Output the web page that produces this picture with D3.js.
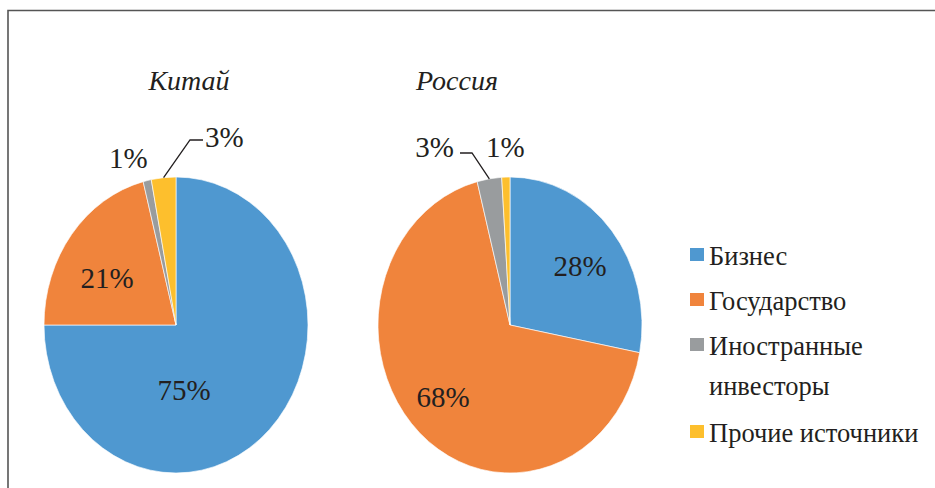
<!DOCTYPE html>
<html lang="ru">
<head>
    <meta charset="UTF-8">
    <title>Китай и Россия</title>
    <script src="https://d3js.org/d3.v7.min.js"></script>
    <style>
        body { margin: 0; background: #fff; }
        svg { display: block; }
    </style>
</head>
<body>
    <svg id="chart"></svg>

    <script>
        // categories and values (percent)
        var categories = ["Бизнес", "Государство", "Иностранные инвесторы", "Прочие источники"];
        var chinaValues = [75, 21, 1, 3];
        var russiaValues = [28, 68, 3, 1];
        var titles = ["Китай", "Россия"];
        var colors = ["#4f98d0", "#f0843c", "#999c9e", "#fdbf2d"];

        var width = 935, height = 488;
        var rx = 132, ry = 148;
        var serif = "'Liberation Serif', 'Times New Roman', 'DejaVu Serif', 'Noto Serif', serif";

        var svg = d3.select("#chart")
            .attr("width", width)
            .attr("height", height);

        // frame
        svg.append("path")
            .attr("d", "M8,488 V10.5 H935")
            .attr("fill", "none")
            .attr("stroke", "#555")
            .attr("stroke-width", 1.6);

        var pie = d3.pie().sort(null).value(function(d) { return d; });
        var arc = d3.arc().innerRadius(0).outerRadius(rx);

        // label placement per pie (index of slice -> position, relative to centre)
        var charts = [
            {
                values: chinaValues, title: titles[0], cx: 176, cy: 325, titleX: 189,
                labels: [
                    { dx: 8, dy: 75, anchor: "middle" },
                    { dx: -69, dy: -37, anchor: "middle" },
                    { dx: -67, dy: -157, anchor: "start" },
                    { dx: 29, dy: -178, anchor: "start", leader: [[14, -185], [27, -185]] }
                ]
            },
            {
                values: russiaValues, title: titles[1], cx: 510, cy: 325, titleX: 457,
                labels: [
                    { dx: 70, dy: -49, anchor: "middle" },
                    { dx: -67, dy: 82, anchor: "middle" },
                    { dx: -56, dy: -168, anchor: "end", leader: [[-38, -172], [-50, -172]] },
                    { dx: -24, dy: -168, anchor: "start" }
                ]
            }
        ];

        charts.forEach(function(c) {
            var arcs = pie(c.values);

            svg.append("text")
                .attr("x", c.titleX)
                .attr("y", 90)
                .attr("text-anchor", "middle")
                .attr("font-family", serif)
                .attr("font-style", "italic")
                .attr("font-size", 28)
                .attr("fill", "#231f20")
                .text(c.title);

            var g = svg.append("g")
                .attr("transform", "translate(" + c.cx + "," + c.cy + ") scale(1," + (ry / rx) + ")");

            g.selectAll("path")
                .data(arcs)
                .enter().append("path")
                .attr("d", arc)
                .attr("fill", function(d, i) { return colors[i]; })
                .attr("stroke", "#fff")
                .attr("stroke-width", 0.6);

            arcs.forEach(function(d, i) {
                var lab = c.labels[i];
                if (lab.leader) {
                    var mid = (d.startAngle + d.endAngle) / 2;
                    var pts = [[rx * Math.sin(mid), -ry * Math.cos(mid)]].concat(lab.leader);
                    svg.append("path")
                        .attr("d", d3.line()(pts.map(function(p) { return [c.cx + p[0], c.cy + p[1]]; })))
                        .attr("fill", "none")
                        .attr("stroke", "#231f20")
                        .attr("stroke-width", 1.3);
                }
                svg.append("text")
                    .attr("x", c.cx + lab.dx)
                    .attr("y", c.cy + lab.dy)
                    .attr("text-anchor", lab.anchor)
                    .attr("font-family", serif)
                    .attr("font-size", 29)
                    .attr("fill", "#231f20")
                    .text(c.values[i] + "%");
            });
        });

        // legend
        var legendRows = [[265], [310], [355, 395], [442]];
        var legendLines = [["Бизнес"], ["Государство"], ["Иностранные", "инвесторы"], ["Прочие источники"]];

        var legend = svg.append("g");
        categories.forEach(function(cat, i) {
            legend.append("rect")
                .attr("x", 690)
                .attr("y", legendRows[i][0] - 17)
                .attr("width", 14)
                .attr("height", 13)
                .attr("fill", colors[i]);
            legendLines[i].forEach(function(line, j) {
                legend.append("text")
                    .attr("x", 709)
                    .attr("y", legendRows[i][j])
                    .attr("font-family", serif)
                    .attr("font-size", 26.5)
                    .attr("fill", "#231f20")
                    .text(line);
            });
        });
    </script>
</body>
</html>
